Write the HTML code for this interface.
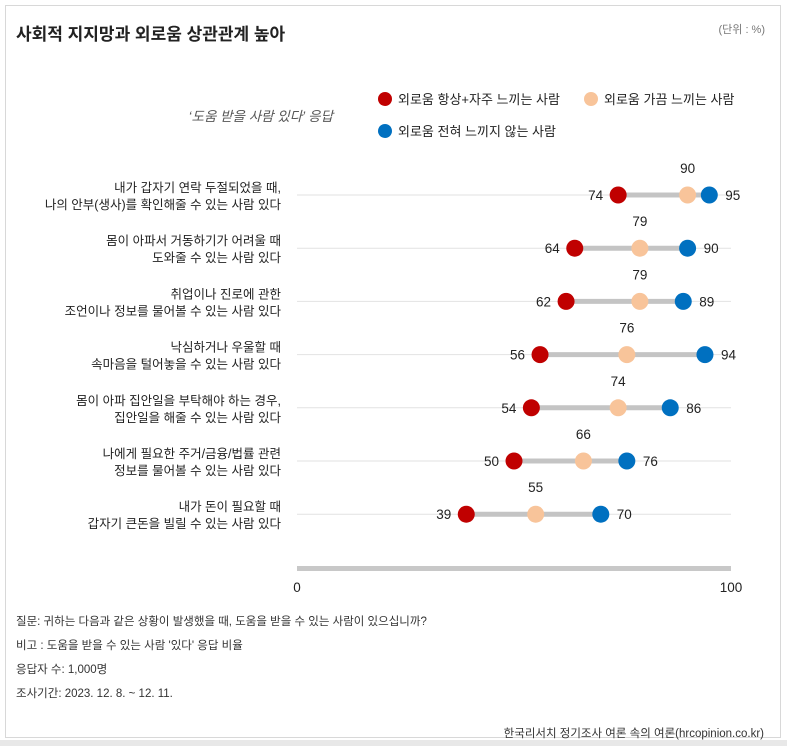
<!DOCTYPE html>
<html><head><meta charset="utf-8">
<style>
body{margin:0;background:#fff;width:787px;height:746px;overflow:hidden;font-family:"Liberation Sans","Noto Sans CJK KR",sans-serif;}
#frame{position:absolute;left:5px;top:5px;width:776px;height:733px;border:1px solid #d8d8d8;box-sizing:border-box;}
#strip{position:absolute;left:0;top:740px;width:787px;height:6px;background:#e8e8e8;}
</style></head><body>
<div id="frame"></div>
<div id="strip"></div>
<svg width="787" height="746" style="position:absolute;left:0;top:0" font-family="Liberation Sans, Noto Sans CJK KR, sans-serif">
<text x="16" y="40" font-size="17" font-weight="bold" fill="#222">사회적 지지망과 외로움 상관관계 높아</text>
<text x="765" y="33" font-size="11" fill="#777" text-anchor="end">(단위 : %)</text>
<text x="333" y="121" font-size="13.5" font-style="italic" fill="#555" text-anchor="end">‘도움 받을 사람 있다’ 응답</text>
<g>
<g><circle cx="385" cy="99" r="7" fill="#c00000"/><text x="398" y="104" font-size="13" fill="#222">외로움 항상+자주 느끼는 사람</text></g>
<g><circle cx="591" cy="99" r="7" fill="#f8c49a"/><text x="604" y="104" font-size="13" fill="#222">외로움 가끔 느끼는 사람</text></g>
<g><circle cx="385" cy="131" r="7" fill="#0070c0"/><text x="398" y="136" font-size="13" fill="#222">외로움 전혀 느끼지 않는 사람</text></g>
</g>
<g id="plot"></g>
<rect x="297" y="566" width="434" height="5" fill="#c8c8c8"/>
<g id="ticks"></g>
<g font-size="11.5" fill="#333">
<text x="16" y="625">질문: 귀하는 다음과 같은 상황이 발생했을 때, 도움을 받을 수 있는 사람이 있으십니까?</text>
<text x="16" y="649">비고 : 도움을 받을 수 있는 사람 '있다' 응답 비율</text>
<text x="16" y="673">응답자 수: 1,000명</text>
<text x="16" y="697">조사기간: 2023. 12. 8. ~ 12. 11.</text>
<text x="764" y="737" text-anchor="end">한국리서치 정기조사 여론 속의 여론(hrcopinion.co.kr)</text>
</g>
</svg>
<script>
const categories=[["내가 갑자기 연락 두절되었을 때,","나의 안부(생사)를 확인해줄 수 있는 사람 있다"],["몸이 아파서 거동하기가 어려울 때","도와줄 수 있는 사람 있다"],["취업이나 진로에 관한","조언이나 정보를 물어볼 수 있는 사람 있다"],["낙심하거나 우울할 때","속마음을 털어놓을 수 있는 사람 있다"],["몸이 아파 집안일을 부탁해야 하는 경우,","집안일을 해줄 수 있는 사람 있다"],["나에게 필요한 주거/금융/법률 관련","정보를 물어볼 수 있는 사람 있다"],["내가 돈이 필요할 때","갑자기 큰돈을 빌릴 수 있는 사람 있다"]];
const often=[74,64,62,56,54,50,39];
const sometimes=[90,79,79,76,74,66,55];
const never=[95,90,89,94,86,76,70];
const tickLabels=[0,100];
const NS="http://www.w3.org/2000/svg";
const x=v=>297+v*4.34;
const y=i=>195+i*53.2;
const plot=document.getElementById('plot');
function mk(tag,attrs,parent){const e=document.createElementNS(NS,tag);for(const k in attrs)e.setAttribute(k,attrs[k]);parent.appendChild(e);return e;}
categories.forEach((c,i)=>{
 const g=mk('g',{},plot);
 
 
 const yy=y(i);
 const t=mk('text',{x:281,'text-anchor':'end','font-size':12.5,fill:'#222'},g);
 
 
 c.forEach((ln,k)=>{const s=mk('tspan',{x:281,y:yy-3+k*17},t);s.textContent=ln;});
 mk('line',{x1:297,x2:731,y1:yy,y2:yy,stroke:'#e2e2e2','stroke-width':1},g);
 const vals=[often[i],sometimes[i],never[i]];
 const lo=Math.min(...vals),hi=Math.max(...vals);
 const b=mk('line',{x1:x(lo),x2:x(hi),y1:yy,y2:yy,stroke:'#c4c4c4','stroke-width':5},g);
 
 
 [[often[i],'#c00000','dot-often'],[sometimes[i],'#f8c49a','dot-sometimes'],[never[i],'#0070c0','dot-never']].forEach(([v,col,n])=>{
  const d=mk('circle',{cx:x(v),cy:yy,r:8.5,fill:col},g);
  
  
 });
 const l1=mk('text',{x:x(often[i])-15,y:yy+5,'text-anchor':'end','font-size':13.5,fill:'#222'},g);l1.textContent=often[i];
 
 
 const l2=mk('text',{x:x(sometimes[i]),y:yy-22,'text-anchor':'middle','font-size':13.5,fill:'#222'},g);l2.textContent=sometimes[i];
 
 
 const l3=mk('text',{x:x(never[i])+16,y:yy+5,'font-size':13.5,fill:'#222'},g);l3.textContent=never[i];
 
 
});
const ticks=document.getElementById('ticks');
tickLabels.forEach(v=>{
 const t=mk('text',{x:x(v),y:592,'text-anchor':'middle','font-size':13.5,fill:'#222'},ticks);t.textContent=v;
 
 
});
</script>
</body></html>
